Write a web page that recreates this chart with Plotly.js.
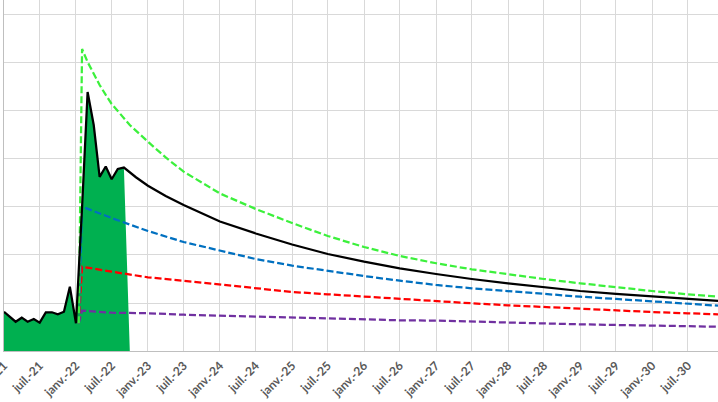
<!DOCTYPE html>
<html>
<head>
<meta charset="utf-8">
<script src="https://cdn.plot.ly/plotly-3.0.1.min.js"></script>
<style>
  html, body { margin: 0; padding: 0; background: #fff; }
  #chart { width: 718px; height: 402px; }
</style>
</head>
<body>
<div id="chart"></div>
<script>
/* historic monthly values, Jan 2021 – Sep 2022 */
const histDates = ['2021-01-01', '2021-02-01', '2021-03-01', '2021-04-01', '2021-05-01',
  '2021-06-01', '2021-07-01', '2021-08-01', '2021-09-01', '2021-10-01', '2021-11-01',
  '2021-12-01', '2022-01-01', '2022-02-01', '2022-03-01', '2022-04-01', '2022-05-01',
  '2022-06-01', '2022-07-01', '2022-08-01', '2022-09-01'];
const histValues = [40.9, 35.7, 30.5, 34.7, 30.5, 33.3, 29.5, 40.3, 40.3, 38.2, 40.9,
  67.0, 28.9, 150.0, 269.8, 235.4, 181.3, 192.2, 178.9, 189.6, 191.1];

/* filled area ends one month after the last actual */
const areaEndDate = '2022-10-01';
const areaEndValue = 0;

/* central projection (black) */
const projDates = ['2022-11-01', '2023-01-01', '2023-04-01', '2023-07-01', '2024-01-01',
  '2024-07-01', '2025-01-01', '2025-07-01', '2026-01-01', '2026-07-01', '2027-01-01',
  '2027-07-01', '2028-01-01', '2028-07-01', '2029-01-01', '2029-07-01', '2030-01-01',
  '2030-07-01', '2030-12-01'];
const projValues = [181.0, 172.2, 161.5, 152.1, 134.9, 122.4, 110.9, 101.0, 93.0, 86.1,
  80.2, 75.0, 70.5, 66.4, 62.5, 59.4, 56.6, 54.2, 52.1];

/* high scenario (green dashed) */
const highDates = ['2022-01-15', '2022-02-01', '2022-03-01', '2022-04-01', '2022-05-01',
  '2022-06-01', '2022-07-01', '2022-08-01', '2022-10-01', '2023-01-01', '2023-04-01',
  '2023-07-01', '2024-01-01', '2024-07-01', '2025-01-01', '2025-07-01', '2026-01-01',
  '2026-07-01', '2027-01-01', '2027-07-01', '2028-01-01', '2028-07-01', '2029-01-01',
  '2029-07-01', '2030-01-01', '2030-07-01', '2030-12-01'];
const highValues = [28.9, 314.6, 301.0, 288.5, 277.1, 266.7, 257.3, 250.0, 235.4, 218.0,
  201.6, 186.8, 164.1, 147.9, 133.3, 119.8, 108.3, 99.0, 91.4, 85.1, 79.9, 75.0, 70.5,
  66.4, 62.5, 59.1, 56.6];

/* other scenarios share one date list */
const scenDates = ['2022-01-15', '2022-02-01', '2022-07-01', '2023-01-01', '2023-07-01',
  '2024-01-01', '2024-07-01', '2025-01-01', '2025-07-01', '2026-01-01', '2026-07-01',
  '2027-01-01', '2027-07-01', '2028-01-01', '2028-07-01', '2029-01-01', '2029-07-01',
  '2030-01-01', '2030-07-01', '2030-12-01'];
const blueValues = [28.9, 150.3, 138.5, 125.0, 113.5, 104.2, 95.8, 88.9, 83.3, 78.1,
  73.2, 68.8, 65.3, 62.2, 59.4, 56.6, 54.2, 51.8, 49.3, 47.2];
const redValues = [28.9, 87.8, 82.6, 76.8, 73.2, 69.5, 65.3, 61.5, 59.1, 56.6, 54.2,
  52.1, 49.7, 47.6, 45.8, 43.8, 42.0, 40.6, 39.3, 38.2];
const purpleValues = [28.9, 42.0, 39.9, 39.3, 37.8, 36.8, 35.7, 34.7, 33.6, 33.0, 32.0,
  31.6, 30.5, 29.5, 28.4, 27.8, 27.1, 26.4, 25.7, 25.3];

/* x tick labels every six months */
const tickDates = ['2021-01-01', '2021-07-01', '2022-01-01', '2022-07-01', '2023-01-01',
  '2023-07-01', '2024-01-01', '2024-07-01', '2025-01-01', '2025-07-01', '2026-01-01',
  '2026-07-01', '2027-01-01', '2027-07-01', '2028-01-01', '2028-07-01', '2029-01-01',
  '2029-07-01', '2030-01-01', '2030-07-01'];
const tickLabels = ['janv.-21', 'juil.-21', 'janv.-22', 'juil.-22', 'janv.-23', 'juil.-23',
  'janv.-24', 'juil.-24', 'janv.-25', 'juil.-25', 'janv.-26', 'juil.-26', 'janv.-27',
  'juil.-27', 'janv.-28', 'juil.-28', 'janv.-29', 'juil.-29', 'janv.-30', 'juil.-30'];

const DASH = '7px,3px';

function dashed(x, y, color) {
  return {
    type: 'scatter', mode: 'lines', x: x, y: y, hoverinfo: 'skip',
    line: { color: color, width: 2.25, dash: DASH },
  };
}

const traces = [
  {
    type: 'scatter', mode: 'lines', hoverinfo: 'skip',
    x: histDates.concat([areaEndDate]), y: histValues.concat([areaEndValue]),
    fill: 'tozeroy', fillcolor: '#00b050', line: { color: 'rgba(0,0,0,0)', width: 0 },
  },
  dashed(scenDates, purpleValues, '#7030a0'),
  dashed(scenDates, redValues, '#ff0000'),
  dashed(scenDates, blueValues, '#0070c0'),
  dashed(highDates, highValues, '#3cf03c'),
  {
    type: 'scatter', mode: 'lines', hoverinfo: 'skip',
    x: histDates.concat(projDates), y: histValues.concat(projValues),
    line: { color: '#000000', width: 2.25 },
  },
];

const layout = {
  width: 718, height: 402,
  margin: { l: 4, r: 0, t: 0, b: 51 },
  paper_bgcolor: '#ffffff', plot_bgcolor: '#ffffff',
  showlegend: false,
  xaxis: {
    type: 'date', range: ['2021-01-01', '2030-12-01'],
    tickmode: 'array', tickvals: tickDates, ticktext: tickLabels,
    tickangle: -45, ticks: '', ticklabeloverflow: 'allow', ticklabelstandoff: 2,
    tickfont: { family: 'Lato, "Liberation Sans", sans-serif', size: 12, color: '#595959', weight: 700 },
    showgrid: true, gridcolor: '#d9d9d9', gridwidth: 1,
    showline: true, linecolor: '#bfbfbf', linewidth: 1,
    zeroline: false,
  },
  yaxis: {
    range: [0, 365.6], dtick: 50, tick0: 0,
    showticklabels: false, ticks: '',
    showgrid: true, gridcolor: '#d9d9d9', gridwidth: 1,
    showline: true, linecolor: '#bfbfbf', linewidth: 1,
    zeroline: false,
  },
};

Plotly.newPlot('chart', traces, layout, { staticPlot: true, displayModeBar: false });
</script>
</body>
</html>
